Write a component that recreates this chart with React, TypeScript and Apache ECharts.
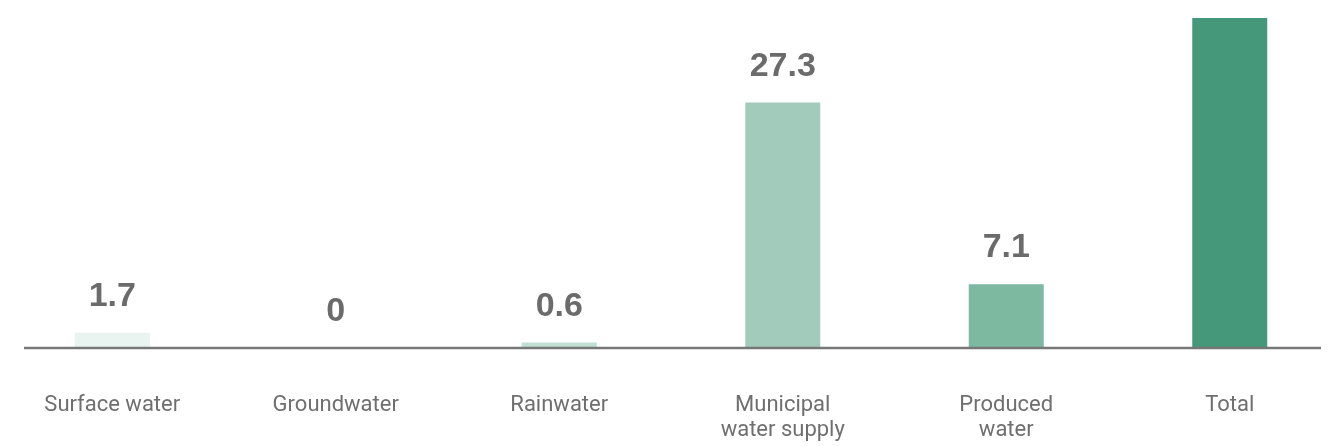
import React, { useEffect, useRef } from "react";
import * as echarts from "echarts";

const categories = [
  "Surface water",
  "Groundwater",
  "Rainwater",
  "Municipal\nwater supply",
  "Produced\nwater",
  "Total",
];
const values = [1.7, 0, 0.6, 27.3, 7.1, 36.7];
const barColors = ["#e9f3ef", "#d6ebe3", "#bfe0d3", "#a3cbbb", "#7db8a1", "#46987a"];
const yearLabel = "2020";

export default function App() {
  const ref = useRef<HTMLDivElement>(null);
  useEffect(() => {
    if (!ref.current) return;
    const chart = echarts.init(ref.current, null, { renderer: "svg" });
    chart.setOption({
      animation: false,
      grid: { left: 0.5, width: 1341, top: 18, bottom: 98, containLabel: false },
      xAxis: {
        type: "category",
        data: categories,
        axisLine: { show: false },
        axisTick: { show: false },
        axisLabel: {
          margin: 43,
          color: "#6f6f6f",
          fontSize: 22,
          lineHeight: 25,
          fontFamily: "'Roboto', sans-serif",
          interval: 0,
        },
      },
      yAxis: {
        type: "value",
        min: 0,
        max: 36.7,
        show: false,
        splitLine: { show: false },
      },
      series: [
        {
          type: "bar",
          barWidth: 75,
          data: values.map((v, i) => ({ value: v, itemStyle: { color: barColors[i] } })),
          label: {
            show: true,
            position: "top",
            distance: 22,
            color: "#6b6b6b",
            fontSize: 34,
            fontWeight: "bold",
            fontFamily: "'Liberation Sans', Arial, sans-serif",
          },
        },
      ],
      graphic: [
        {
          type: "line",
          shape: { x1: 24, y1: 348, x2: 1321, y2: 348 },
          style: { stroke: "#777777", lineWidth: 2.5 },
          z: 10,
        },
        {
          type: "text",
          left: 25,
          top: -15,
          style: {
            text: yearLabel,
            fontSize: 18,
            fontWeight: "bold",
            fill: "#777777",
            fontFamily: "'Liberation Sans', Arial, sans-serif",
          },
        },
      ],
    });
    return () => chart.dispose();
  }, []);
  return (
    <div
      style={{
        position: "fixed",
        left: 0,
        top: 0,
        width: 1336,
        height: 446,
        overflow: "hidden",
      }}
    >
      <div ref={ref} style={{ width: 1345, height: 446 }} />
    </div>
  );
}
